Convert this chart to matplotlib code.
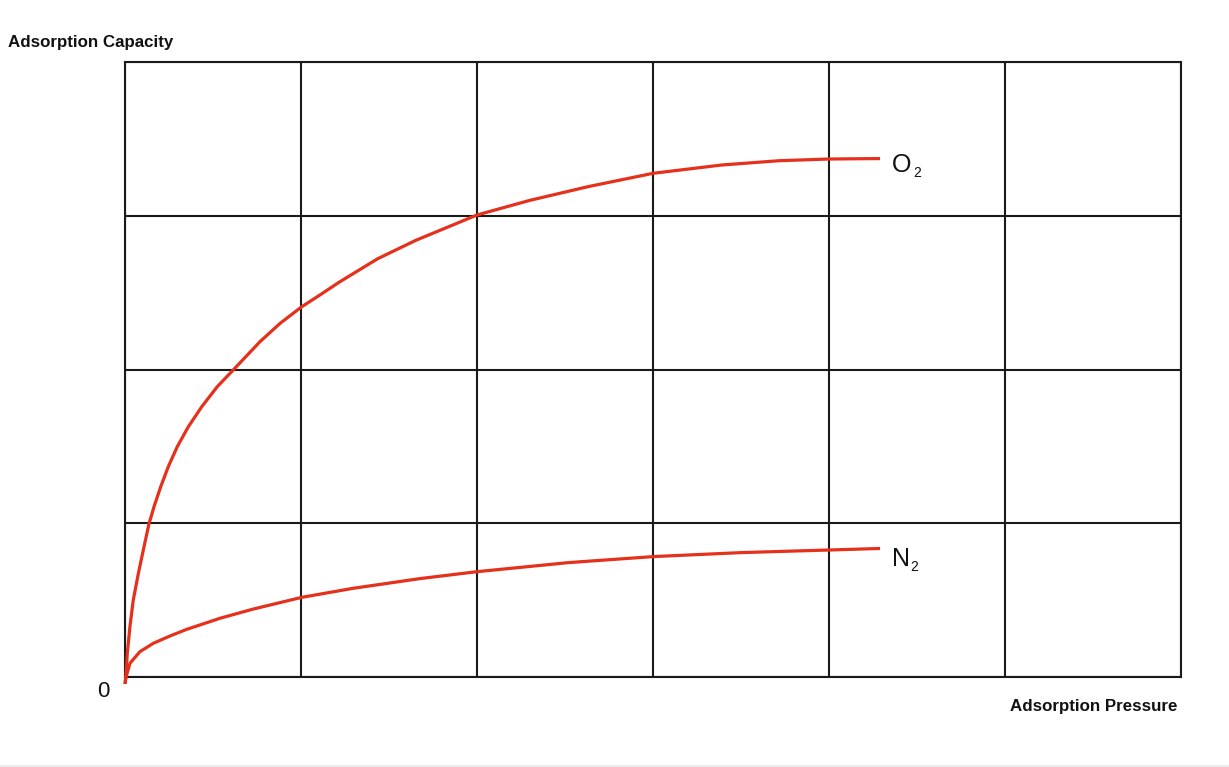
import matplotlib
matplotlib.use("Agg")
import matplotlib.pyplot as plt
from matplotlib.patches import Rectangle

# Data (x: pressure in grid units, y: capacity in grid units)
o2_pressure = [0.0, 0.004, 0.006, 0.013, 0.028, 0.047, 0.076, 0.108, 0.136, 0.165,
               0.203, 0.246, 0.297, 0.360, 0.436, 0.524, 0.615, 0.767, 0.881, 1.004,
               1.108, 1.217, 1.435, 1.652, 2.0, 2.30, 2.63, 3.0, 3.39, 3.717, 4.0, 4.29]
o2_capacity = [-0.045, -0.01, 0.024, 0.154, 0.327, 0.501, 0.674, 0.847, 0.995, 1.108,
               1.238, 1.368, 1.498, 1.628, 1.758, 1.888, 1.997, 2.181, 2.300, 2.408,
               2.485, 2.568, 2.720, 2.840, 3.005, 3.100, 3.189, 3.276, 3.330, 3.358,
               3.369, 3.372]

n2_pressure = [0.0, 0.004, 0.028, 0.085, 0.161, 0.256, 0.351, 0.540, 0.729, 1.004,
               1.297, 1.676, 2.0, 2.52, 3.0, 3.5, 4.0, 4.29]
n2_capacity = [-0.045, -0.008, 0.089, 0.165, 0.219, 0.267, 0.310, 0.382, 0.442, 0.518,
               0.577, 0.640, 0.685, 0.744, 0.783, 0.809, 0.826, 0.836]

x_ticks = [0, 1, 2, 3, 4, 5, 6]
y_ticks = [0, 1, 2, 3, 4]
series_labels = ["O", "N"]
subscript = "2"
y_label = "Adsorption Capacity"
x_label = "Adsorption Pressure"
origin_label = "0"

W, H = 1229, 767
fig = plt.figure(figsize=(W / 100, H / 100), dpi=100)
fig.patch.set_facecolor("white")

ax = fig.add_axes([125 / W, 1 - 677 / H, (1181 - 125) / W, (677 - 62) / H])
ax.set_xlim(x_ticks[0], x_ticks[-1])
ax.set_ylim(y_ticks[0], y_ticks[-1])
ax.set_xticks(x_ticks)
ax.set_yticks(y_ticks)
ax.tick_params(length=0, labelbottom=False, labelleft=False)
ax.grid(True, color="#1a1a1a", linewidth=1.5)
for s in ax.spines.values():
    s.set_color("#1a1a1a")
    s.set_linewidth(1.5)

red = "#e5301c"
ax.plot(o2_pressure, o2_capacity, color=red, lw=2.3, clip_on=False,
        solid_capstyle="butt", solid_joinstyle="round", zorder=5)
ax.plot(n2_pressure, n2_capacity, color=red, lw=2.3, clip_on=False,
        solid_capstyle="butt", solid_joinstyle="round", zorder=5)

txt = "#111111"
font = "Liberation Sans"
for (xs, ys, lab, main_off, sub_off) in [
    (o2_pressure, o2_capacity, series_labels[0], (12, -13), (33, -18)),
    (n2_pressure, n2_capacity, series_labels[1], (12, -18), (30, -23)),
]:
    ax.annotate(lab, xy=(xs[-1], ys[-1]), xytext=main_off, textcoords="offset pixels",
                fontsize=18, family=font, color=txt, ha="left", va="baseline",
                annotation_clip=False)
    ax.annotate(subscript, xy=(xs[-1], ys[-1]), xytext=sub_off, textcoords="offset pixels",
                fontsize=10, family=font, color=txt, ha="left", va="baseline",
                annotation_clip=False)

fig.text(8 / W, 1 - 47.3 / H, y_label, fontsize=12.2, fontweight="bold", family=font,
         color=txt, ha="left", va="baseline")
fig.text(1177.5 / W, 1 - 710.7 / H, x_label, fontsize=12.2, fontweight="bold", family=font,
         color=txt, ha="right", va="baseline")
fig.text(103.7 / W, 1 - 691.7 / H, origin_label, fontsize=16, family=font,
         color=txt, ha="center", va="center")

fig.patches.append(Rectangle((0, 0), 1, 2.5 / H, transform=fig.transFigure,
                             facecolor="#ececec", edgecolor="none"))

fig.savefig("out.png", dpi=100, facecolor="white")
